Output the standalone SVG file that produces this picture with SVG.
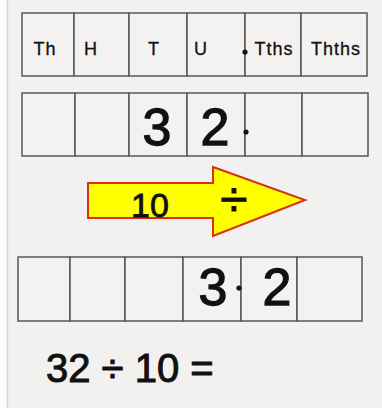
<svg xmlns="http://www.w3.org/2000/svg" width="382" height="408" viewBox="0 0 382 408">
<style>
.bg{fill:#f3f1ef}
.cell{fill:#f4f2f0;stroke:#5a5656;stroke-width:1.5}
.hd{font-family:"Liberation Sans",sans-serif;font-size:18px;letter-spacing:1px;fill:#111;stroke:#111;stroke-width:0.3;text-anchor:middle}
.dig{font-family:"Liberation Sans",sans-serif;font-size:52px;fill:#111;stroke:#111;stroke-width:1.3;text-anchor:middle}
.dot{fill:#111}
.arrow{fill:#ffff00;stroke:#d8301c;stroke-width:2}
.at{font-family:"Liberation Sans",sans-serif;fill:#111;stroke:#111;stroke-width:0.8;text-anchor:middle}
.eq{font-family:"Liberation Sans",sans-serif;font-size:40px;fill:#111;stroke:#111;stroke-width:1}
</style>
<rect width="382" height="408" class="bg"/>
<rect x="0" y="0" width="7" height="408" fill="#fbfcfc"/>
<line x1="7.5" y1="0" x2="7.5" y2="408" stroke="#c6dadd" stroke-width="1.5"/>
<g id="row1">
<rect class="cell" x="22" y="13" width="52" height="63"/>
<rect class="cell" x="74" y="13" width="55" height="63"/>
<rect class="cell" x="129" y="13" width="58" height="63"/>
<rect class="cell" x="187" y="13" width="58" height="63"/>
<rect class="cell" x="245" y="13" width="56" height="63"/>
<rect class="cell" x="301" y="13" width="66" height="63"/>
<text class="hd" x="45" y="55">Th</text>
<text class="hd" x="91" y="55">H</text>
<text class="hd" x="154" y="55">T</text>
<text class="hd" x="201" y="55">U</text>
<circle class="dot" cx="245" cy="52" r="2.6"/>
<text class="hd" x="274" y="55">Tths</text>
<text class="hd" x="336" y="55">Thths</text>
</g>
<g id="row2">
<rect class="cell" x="22" y="93" width="53" height="63"/>
<rect class="cell" x="75" y="93" width="54" height="63"/>
<rect class="cell" x="129" y="93" width="58" height="63"/>
<rect class="cell" x="187" y="93" width="58" height="63"/>
<rect class="cell" x="245" y="93" width="57" height="63"/>
<rect class="cell" x="302" y="93" width="66" height="63"/>
<text class="dig" x="157" y="145">3</text>
<text class="dig" x="215" y="145">2</text>
<circle class="dot" cx="246" cy="132" r="2.6"/>
</g>
<g id="arrow">
<path class="arrow" d="M88,183 L213,183 L213,167 L305,200 L213,236 L213,218 L88,218 Z"/>
<text class="at" x="150" y="217" font-size="34">10</text>
<text class="at" x="234" y="216" font-size="50">÷</text>
</g>
<g id="row3">
<rect class="cell" x="18" y="257" width="52" height="64"/>
<rect class="cell" x="70" y="257" width="55" height="64"/>
<rect class="cell" x="125" y="257" width="58" height="64"/>
<rect class="cell" x="183" y="257" width="58" height="64"/>
<rect class="cell" x="241" y="257" width="56" height="64"/>
<rect class="cell" x="297" y="257" width="65" height="64"/>
<text class="dig" x="213" y="305">3</text>
<circle class="dot" cx="239" cy="288" r="2.6"/>
<text class="dig" x="277" y="305">2</text>
</g>
<g id="equation">
<text class="eq" x="46" y="382">32 ÷ 10 =</text>
</g>
</svg>
